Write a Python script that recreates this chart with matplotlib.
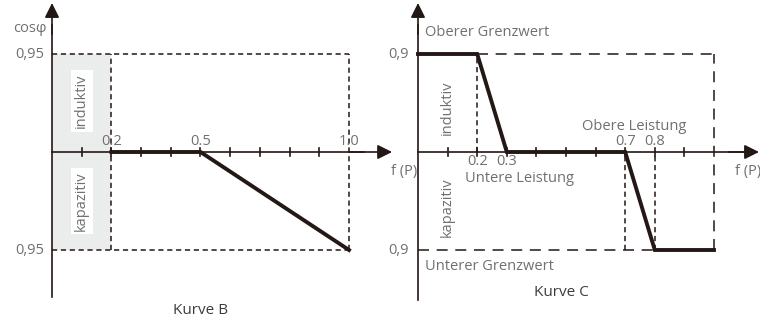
import matplotlib
matplotlib.use("Agg")
import matplotlib.pyplot as plt
import numpy as np

# ---------------- data ----------------
# Curve B: f(P) vs cos(phi) level (+1 = 0,95 inductive, -1 = 0,95 capacitive)
curve_b_x = [0.2, 0.5, 1.0]
curve_b_y = [0.0, 0.0, -1.0]
b_ticks = [0.1, 0.2, 0.3, 0.4, 0.5, 0.6, 0.7, 0.8, 0.9]
b_tick_labels = {0.2: "0.2", 0.5: "0.5", 1.0: "1.0"}
b_level_labels = ["0,95", "0,95"]

# Curve C: (+1 = 0,9 upper limit, -1 = 0,9 lower limit)
curve_c_x = [0.0, 0.2, 0.3, 0.7, 0.8, 1.0]
curve_c_y = [1.0, 1.0, 0.0, 0.0, -1.0, -1.0]
c_ticks = [0.1, 0.2, 0.3, 0.4, 0.5, 0.6, 0.7, 0.8, 0.9]
c_tick_labels_below = {0.2: "0.2", 0.3: "0.3"}
c_tick_labels_above = {0.7: "0.7", 0.8: "0.8"}
c_level_labels = ["0,9", "0,9"]

# ---------------- style ----------------
W, H = 760, 320
DPI = 100
FONT = ["Open Sans", "DejaVu Sans"]
plt.rcParams['font.family'] = FONT
INK = "#231815"
TXT = "#707070"
TXT_DARK = "#3c3c3c"
GREY = "#ebecec"
FS = 10.5
CURVE_LW = 2.8
AXIS_LW = 1.2
DASH_LW = 1.1
SHORT = (3.4, 2.4)
LONG = (7.2, 5.0)

fig = plt.figure(figsize=(W / DPI, H / DPI), dpi=DPI)
fig.patch.set_facecolor("white")

Y0PX, YUNIT = 152, 98
ylim = (-(H - Y0PX) / YUNIT, Y0PX / YUNIT)


def make_ax(left_px, right_px, x0px, xunit):
    ax = fig.add_axes([left_px / W, 0, (right_px - left_px) / W, 1])
    ax.set_xlim((left_px - x0px) / xunit, (right_px - x0px) / xunit)
    ax.set_ylim(*ylim)
    ax.axis("off")
    return ax


def arrow(ax, start, tip):
    ax.annotate("", xy=tip, xytext=start,
                arrowprops=dict(arrowstyle="-|>", mutation_scale=22, lw=AXIS_LW,
                                color=INK, shrinkA=0, shrinkB=0),
                annotation_clip=False)


def ftext(xpx, ypx, s, **kw):
    kw.setdefault("fontsize", FS)
    kw.setdefault("color", TXT)
    fig.text(xpx / W, 1 - ypx / H, s, **kw)


# ---------------- left panel: Kurve B ----------------
axb = make_ax(0, 380, 52, 297)
axb.fill_between([0, 0.2], -1, 1, color=GREY, lw=0, zorder=0)
for xv in (0.2, 1.0):
    axb.plot([xv, xv], [-1, 1], color=INK, lw=DASH_LW, dashes=SHORT, clip_on=False)
for yv in (-1, 1):
    axb.plot([0, 1.0], [yv, yv], color=INK, lw=DASH_LW, dashes=SHORT, clip_on=False)
# axes
axb.plot([0, 0], [-1.48, 1.3], color=INK, lw=AXIS_LW, clip_on=False)
arrow(axb, (0, 1.2), (0, 1.52))
axb.plot([0, 1.05], [0, 0], color=INK, lw=AXIS_LW, clip_on=False)
arrow(axb, (1.0, 0), (1.145, 0))
for t in b_ticks:
    axb.plot([t, t], [-0.04, 0.04], color=INK, lw=AXIS_LW, clip_on=False)
axb.plot(curve_b_x, curve_b_y, color=INK, lw=CURVE_LW, solid_joinstyle="miter",
         clip_on=False, zorder=5)
for xv, s in b_tick_labels.items():
    axb.text(xv, 0.03, s, ha="center", va="bottom", fontsize=FS, color=TXT)
axb.text(-0.025, 1, b_level_labels[0], ha="right", va="center", fontsize=FS, color=TXT)
axb.text(-0.025, -1, b_level_labels[1], ha="right", va="center", fontsize=FS, color=TXT)
axb.text(0.1, 0.52, "induktiv", rotation=90, ha="center", va="center", fontsize=FS,
         color=TXT, bbox=dict(boxstyle="square,pad=0.25", fc="white", ec="none"))
axb.text(0.1, -0.5, "kapazitiv", rotation=90, ha="center", va="center", fontsize=FS,
         color=TXT, bbox=dict(boxstyle="square,pad=0.25", fc="white", ec="none"))
ftext(47, 28, "cosφ", ha="right", va="center")
ftext(201, 311, "Kurve B", ha="center", va="center", color=TXT_DARK, fontsize=FS + 0.5)
ftext(404, 172, "f (P)", ha="center", va="center")

# ---------------- right panel: Kurve C ----------------
axc = make_ax(380, 760, 418, 296)
axc.plot([0.2, 1.0], [1, 1], color=INK, lw=DASH_LW, dashes=LONG, clip_on=False)
axc.plot([0, 0.8], [-1, -1], color=INK, lw=DASH_LW, dashes=LONG, clip_on=False)
axc.plot([1.0, 1.0], [-1, 1], color=INK, lw=DASH_LW, dashes=LONG, clip_on=False)
axc.plot([0.2, 0.2], [0, 1], color=INK, lw=DASH_LW, dashes=SHORT, clip_on=False)
for xv in (0.7, 0.8):
    axc.plot([xv, xv], [-1, 0], color=INK, lw=DASH_LW, dashes=SHORT, clip_on=False)
axc.plot([0, 0], [-1.51, 1.3], color=INK, lw=AXIS_LW, clip_on=False)
arrow(axc, (0, 1.2), (0, 1.52))
axc.plot([0, 1.1], [0, 0], color=INK, lw=AXIS_LW, clip_on=False)
arrow(axc, (1.05, 0), (1.152, 0))
for t in c_ticks:
    axc.plot([t, t], [-0.04, 0.04], color=INK, lw=AXIS_LW, clip_on=False)
axc.plot(curve_c_x, curve_c_y, color=INK, lw=CURVE_LW, solid_joinstyle="miter",
         clip_on=False, zorder=5)
for xv, s in c_tick_labels_below.items():
    axc.text(xv, -0.02, s, ha="center", va="top", fontsize=FS, color=TXT)
for xv, s in c_tick_labels_above.items():
    axc.text(xv, 0.03, s, ha="center", va="bottom", fontsize=FS, color=TXT)
axc.text(-0.03, 1, c_level_labels[0], ha="right", va="center", fontsize=FS, color=TXT)
axc.text(-0.03, -1, c_level_labels[1], ha="right", va="center", fontsize=FS, color=TXT)
axc.text(0.1, 0.45, "induktiv", rotation=90, ha="center", va="center", fontsize=FS, color=TXT)
axc.text(0.1, -0.56, "kapazitiv", rotation=90, ha="center", va="center", fontsize=FS, color=TXT)
ftext(425, 32, "Oberer Grenzwert", ha="left", va="center")
ftext(465, 179, "Untere Leistung", ha="left", va="center")
ftext(582, 127, "Obere Leistung", ha="left", va="center")
ftext(425, 267, "Unterer Grenzwert", ha="left", va="center")
ftext(561, 293, "Kurve C", ha="center", va="center", color=TXT_DARK, fontsize=FS + 0.5)
ftext(748, 172, "f (P)", ha="center", va="center")

fig.savefig("out.png", dpi=DPI, facecolor="white")
